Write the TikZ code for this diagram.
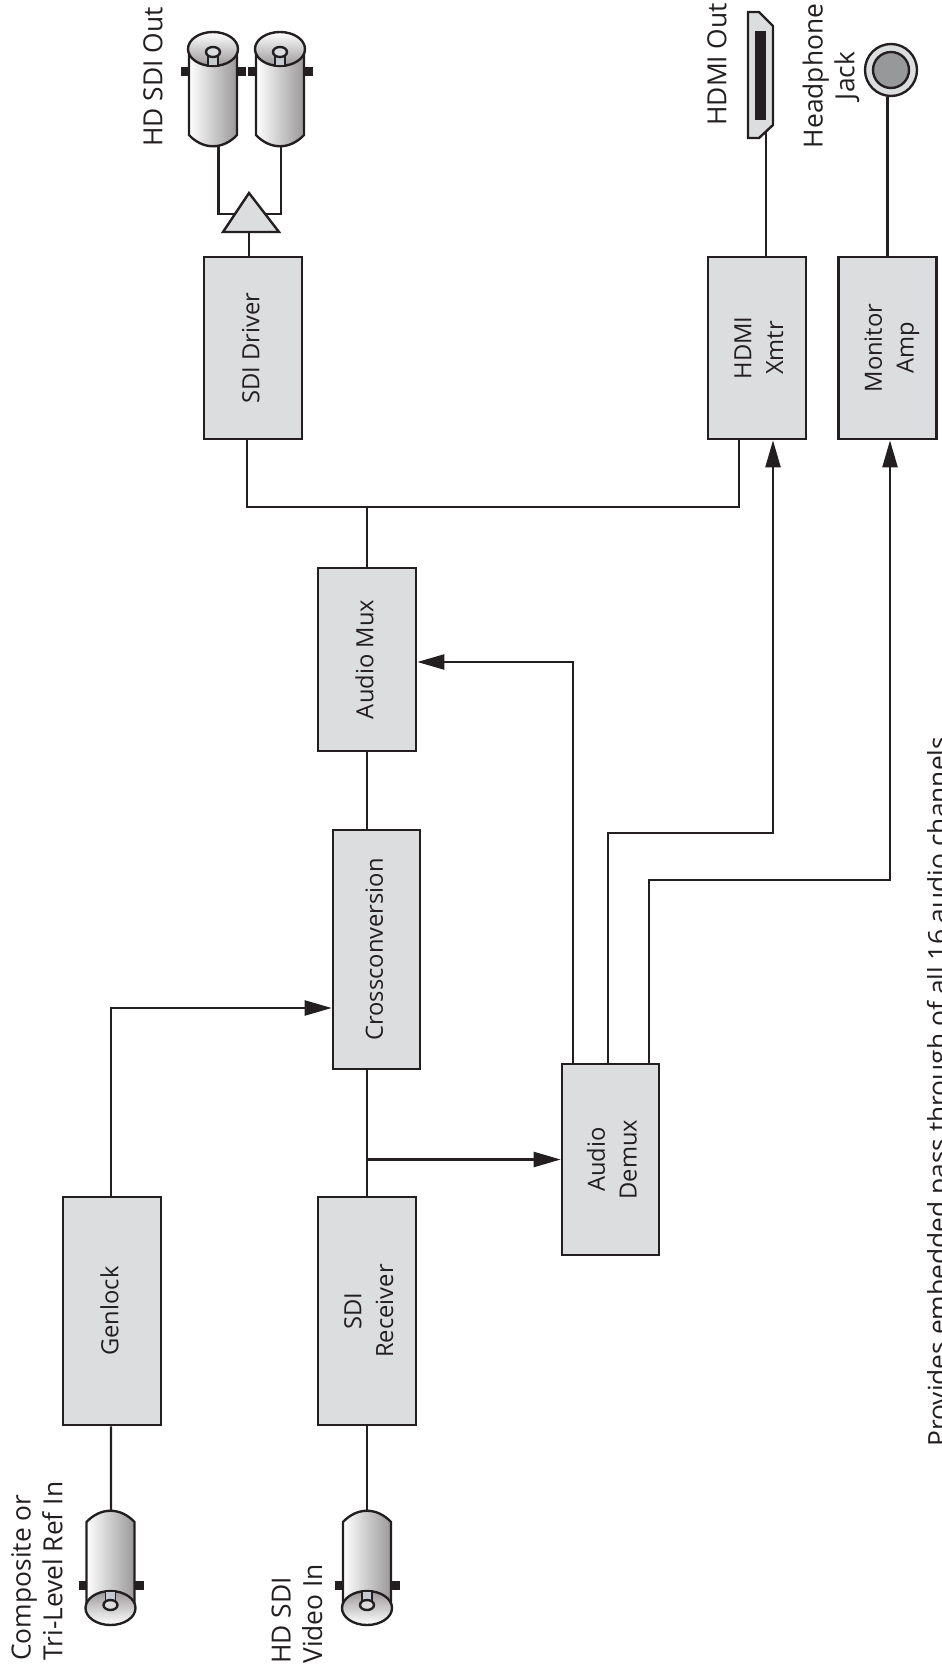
\documentclass[tikz,border=0pt]{standalone}
\usepackage{fontspec}
\setmainfont{Open Sans}
\usetikzlibrary{arrows.meta}
\definecolor{inkline}{HTML}{231F20}
\definecolor{boxfill}{HTML}{DCDDDE}
\definecolor{jackgray}{HTML}{97989A}
\definecolor{bncdark}{HTML}{9A9899}
\definecolor{pinfill}{HTML}{C3CBD0}
\newcommand{\boxtext}[1]{\rotatebox{90}{\begin{tabular}{@{}c@{}}#1\end{tabular}}}
\newcommand{\boxpair}[1]{\hspace{4.5pt}\boxtext{#1}}
\tikzset{
  blockbox/.style={draw=inkline,fill=boxfill,line width=1.5pt,inner sep=0pt,text=inkline,
    font=\fontsize{13.5}{18}\selectfont},
  sigline/.style={draw=inkline,line width=1.35pt},
  sigarrow/.style={sigline,-{Triangle[length=0.54cm,width=0.3cm]}},
  portlabel/.style={rotate=90,inner sep=0pt,text=inkline,font=\fontsize{15}{18}\selectfont},
  bncface/.style={top color=white,bottom color=bncdark},
  bnc/.pic={
    \fill[inkline] (-32,18) rectangle (-24,27);
    \fill[inkline] (24,18) rectangle (33,27);
    \draw[inkline,line width=1.35pt,left color=white,right color=bncdark]
      (-24,0) -- (-24,86) .. controls (-10,101) and (10,101) .. (24,86) -- (24,0) -- cycle;
    \draw[inkline,line width=1.35pt,bncface] (0,0) ellipse [x radius=25,y radius=17];
    \draw[inkline,line width=1.1pt,fill=pinfill] (-5,3) rectangle (5,17);
    \draw[inkline,line width=1.35pt,fill=boxfill] (0,3) ellipse [x radius=7,y radius=5];
    \coordinate (-lead) at (0,97);
  }
}
\begin{document}
\begin{tikzpicture}[x=0.02cm,y=-0.02cm]
\useasboundingbox (0,0) rectangle (942,1669);
% coordinates are pixels of the page
\coordinate (amp) at (249,214);
\coordinate (bus) at (367,507);
\coordinate (hdmirun) at (608,833);
\coordinate (monitorrun) at (649,880);

\node[blockbox,minimum width=1.96cm,minimum height=3.64cm] (sdidriver) at (253,348) {\boxtext{SDI Driver}};
\node[blockbox,minimum width=1.96cm,minimum height=3.64cm] (hdmixmtr) at (757,348) {\boxpair{HDMI\\Xmtr}};
\node[blockbox,minimum width=1.96cm,minimum height=3.64cm] (monitoramp) at (887.5,348) {\boxpair{Monitor\\Amp}};
\node[blockbox,minimum width=1.96cm,minimum height=3.66cm] (audiomux) at (367,659.5) {\boxtext{Audio Mux}};
\node[blockbox,minimum width=1.74cm,minimum height=4.78cm] (crossconv) at (376.5,949.5) {\boxtext{Crossconversion}};
\node[blockbox,minimum width=1.94cm,minimum height=3.82cm] (audiodemux) at (610.5,1159.5) {\boxpair{Audio\\Demux}};
\node[blockbox,minimum width=1.96cm,minimum height=4.56cm] (genlock) at (112,1311) {\boxtext{Genlock}};
\node[blockbox,minimum width=1.96cm,minimum height=4.56cm] (sdireceiver) at (367,1311) {\boxpair{SDI\\Receiver}};

\pic (bncouta) at (213,49) {bnc};
\pic (bncoutb) at (280,49) {bnc};
\pic[yscale=-1,bncface/.style={top color=bncdark,bottom color=white}] (bncref) at (110.5,1608) {bnc};
\pic[yscale=-1,bncface/.style={top color=bncdark,bottom color=white}] (bncvideo) at (367,1608) {bnc};

% inputs
\draw[sigline] ([xshift=-0.02cm]genlock.south) -- ([xshift=0.01cm]bncref-lead);
\draw[sigline] (sdireceiver.south) -- (bncvideo-lead);
\draw[sigarrow] ([xshift=-0.02cm]genlock.north) |- ([yshift=-1.17cm]crossconv.west);
\draw[sigline] (sdireceiver.north) -- (sdireceiver.north |- crossconv.south);
\draw[sigarrow] (sdireceiver.north |- audiodemux.west) -- (audiodemux.west);
\draw[sigline] (audiomux.south) -- (audiomux.south |- crossconv.north);

% audio paths
\draw[sigarrow] ([xshift=-0.75cm]audiodemux.north) |- ([yshift=-0.05cm]audiomux.east);
\draw[sigarrow] (hdmirun |- audiodemux.north) -- (hdmirun) -| ([xshift=0.32cm]hdmixmtr.south);
\draw[sigarrow] (monitorrun |- audiodemux.north) -- (monitorrun) -| ([xshift=0.05cm]monitoramp.south);

% outputs
\draw[sigline] (audiomux.north) -- (bus);
\draw[sigline] ([xshift=-0.12cm]sdidriver.south) |- (bus) -| ([xshift=-0.36cm]hdmixmtr.south);
\draw[sigline] (amp |- sdidriver.north) -- (249,232);
\draw[sigline] ([xshift=0.11cm]bncouta-lead) |- (amp) -| ([xshift=0.02cm]bncoutb-lead);
\draw[inkline,line width=1.35pt,fill=boxfill,line join=miter] (249,193) -- (279,232) -- (223,232) -- cycle;

\draw[sigline] ([xshift=0.18cm]hdmixmtr.north) -- ([xshift=0.18cm]hdmixmtr.north |- 0,131);
\draw[inkline,line width=1.35pt,fill=boxfill] (748,12) -- (759,12) -- (773,26) -- (773,125) -- (759,138) -- (748,138) -- cycle;
\fill[inkline] (755,31) rectangle (766,120);

\node[circle,draw=inkline,fill=boxfill,line width=1.35pt,minimum size=1.04cm,inner sep=0pt] (jackring) at (891,70) {};
\node[circle,draw=inkline,fill=jackgray,line width=1.35pt,minimum size=0.72cm,inner sep=0pt] (jackcore) at (891,70) {};
\draw[sigline] (monitoramp.north) -- (monitoramp.north |- jackring.south);

% labels
\node[portlabel,anchor=west,align=left] (reflabel) at (37,1661) {Composite or\\Tri-Level Ref In};
\node[portlabel,anchor=west,align=left] (videolabel) at (297,1664) {HD SDI\\Video In};
\node[portlabel,anchor=west] (sdioutlabel) at (153,147) {HD SDI Out};
\node[portlabel,anchor=west] (hdmilabel) at (717,126) {HDMI Out};
\node[portlabel,align=center] (jacklabel) at (831,76) {Headphone\\Jack};
\node[portlabel,anchor=base west] (notelabel) at (947,1447) {Provides embedded pass through of all 16 audio channels};
\end{tikzpicture}
\end{document}
